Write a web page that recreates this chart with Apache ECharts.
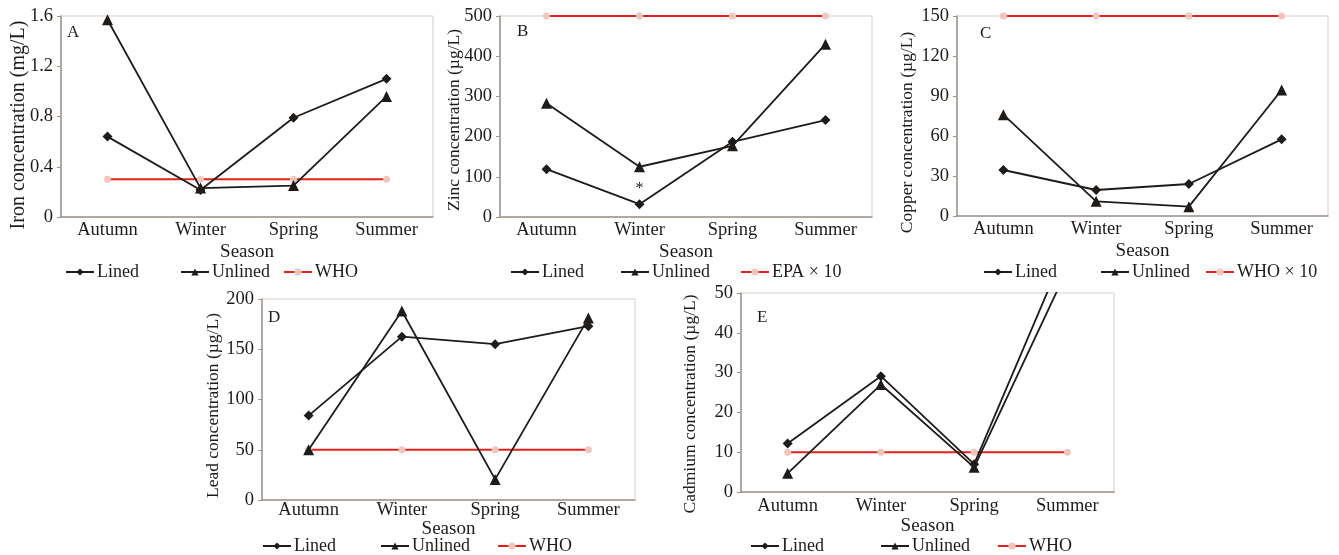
<!DOCTYPE html>
<html>
<head>
<meta charset="utf-8">
<script src="https://cdn.jsdelivr.net/npm/echarts@6/dist/echarts.min.js"></script>
<style>
  html, body { margin: 0; padding: 0; background: #fff; }
  #chart { width: 1339px; height: 555px; }
</style>
</head>
<body>
<div id="chart"></div>
<script>
var seasons = ['Autumn', 'Winter', 'Spring', 'Summer'];

// A - iron (mg/L)
var ironLined = [0.64, 0.215, 0.79, 1.10];
var ironUnlined = [1.57, 0.23, 0.25, 0.96];
var ironWHO = [0.3, 0.3, 0.3, 0.3];
// B - zinc (ug/L)
var zincLined = [119, 32, 187, 241];
var zincUnlined = [283, 125, 177, 430];
var zincEPA = [500, 500, 500, 500];
// C - copper (ug/L)
var copperLined = [34.5, 19.5, 24, 57.5];
var copperUnlined = [76, 11, 7, 94.5];
var copperWHO = [150, 150, 150, 150];
// D - lead (ug/L)
var leadLined = [84, 162.5, 155, 173];
var leadUnlined = [50, 188, 20.5, 181];
var leadWHO = [50, 50, 50, 50];
// E - cadmium (ug/L)
var cadLined = [12.2, 29.1, 7, 62];
var cadUnlined = [4.7, 27, 6.2, 56];
var cadWHO = [10, 10, 10, 10];

var font = "'Liberation Serif', 'Times New Roman', serif";
var ink = '#1e1b19';

// panel layout: grid box, y axis name (size, gap, shift), legend
var panels = [
  {tag: 'A', grid: [61, 16, 372, 201], tagPos: [67, 24], yName: 'Iron concentration (mg/L)', max: 1.6, step: 0.4,
   nameSize: 20, gap: 32, shift: 17, labM: 4, seasonGap: 26,
   lined: ironLined, unlined: ironUnlined, ref: ironWHO, refName: 'WHO', legTop: 263, legX: [65, 180, 283]},
  {tag: 'B', grid: [500, 16, 372, 201], tagPos: [517, 23], yName: 'Zinc concentration (\u00b5g/L)', max: 500, step: 100,
   nameSize: 17.5, gap: 37, shift: 7, labM: 4, seasonGap: 26,
   lined: zincLined, unlined: zincUnlined, ref: zincEPA, refName: 'EPA \u00d7 10', legTop: 263, legX: [510, 620, 740]},
  {tag: 'C', grid: [957, 16, 371, 200], tagPos: [980, 25], yName: 'Copper concentration (\u00b5g/L)', max: 150, step: 30,
   nameSize: 17.5, gap: 41, shift: 33, labM: 4, seasonGap: 26,
   lined: copperLined, unlined: copperUnlined, ref: copperWHO, refName: 'WHO \u00d7 10', legTop: 263, legX: [983, 1100, 1205]},
  {tag: 'D', grid: [262, 299, 373, 201], tagPos: [268, 309], yName: 'Lead concentration (\u00b5g/L)', max: 200, step: 50,
   nameSize: 17.5, gap: 40, shift: 12, labM: 1, seasonGap: 20,
   lined: leadLined, unlined: leadUnlined, ref: leadWHO, refName: 'WHO', legTop: 537, legX: [262, 380, 497]},
  {tag: 'E', grid: [741, 293, 373, 199], tagPos: [757, 309], yName: 'Cadmium concentration (\u00b5g/L)', max: 50, step: 10,
   nameSize: 17.5, gap: 42, shift: 23, labM: 5, seasonGap: 25,
   lined: cadLined, unlined: cadUnlined, ref: cadWHO, refName: 'WHO', legTop: 537, legX: [750, 880, 997]}
];

var grids = [], xAxes = [], yAxes = [], series = [], legends = [], titles = [];

panels.forEach(function (p, i) {
  grids.push({left: p.grid[0], top: p.grid[1], width: p.grid[2], height: p.grid[3],
    show: true, borderColor: '#d6cdc6', borderWidth: 1, backgroundColor: 'transparent'});

  xAxes.push({
    type: 'category', gridIndex: i, data: seasons,
    name: 'Season', nameLocation: 'middle', nameGap: p.seasonGap, nameMoveOverlap: false,
    nameTextStyle: {fontFamily: font, fontSize: 19, color: ink},
    axisLine: {lineStyle: {color: '#9d948c', width: 1.5}},
    axisTick: {length: 4, lineStyle: {color: '#9d948c'}},
    axisLabel: {fontFamily: font, fontSize: 18.5, color: ink, margin: p.labM}
  });

  yAxes.push({
    type: 'value', gridIndex: i, min: 0, max: p.max, interval: p.step,
    name: p.yName, nameLocation: 'middle', nameGap: p.gap, nameMoveOverlap: false,
    nameTextStyle: {fontFamily: font, fontSize: p.nameSize, color: ink, padding: [0, p.shift, 0, 0]},
    axisLine: {show: true, lineStyle: {color: '#9d948c', width: 1.5}},
    axisTick: {show: true, length: 4, lineStyle: {color: '#9d948c'}},
    axisLabel: {fontFamily: font, fontSize: 18.5, color: ink, margin: 8},
    splitLine: {show: false}
  });

  var linedData = p.lined.slice();
  if (p.tag === 'B') {
    linedData[1] = {value: p.lined[1], label: {show: true, formatter: '*', position: 'top', distance: 2,
      fontFamily: font, fontSize: 16, color: ink}};
  }

  series.push({
    name: 'Lined', type: 'line', xAxisIndex: i, yAxisIndex: i, data: linedData,
    symbol: 'diamond', symbolSize: 10, color: ink, z: 3,
    lineStyle: {color: ink, width: 1.8}, itemStyle: {color: ink}
  });
  series.push({
    name: 'Unlined', type: 'line', xAxisIndex: i, yAxisIndex: i, data: p.unlined,
    symbol: 'triangle', symbolSize: 11, color: ink, z: 3,
    lineStyle: {color: ink, width: 1.8}, itemStyle: {color: ink}
  });
  series.push({
    name: p.refName, type: 'line', xAxisIndex: i, yAxisIndex: i, data: p.ref,
    symbol: 'circle', symbolSize: 7, color: '#e3231b', z: 2, clip: false,
    lineStyle: {color: '#e3231b', width: 2}, itemStyle: {color: '#f2c6bc'}
  });

  var names = ['Lined', 'Unlined', p.refName];
  names.forEach(function (n, k) {
    legends.push({
      data: [n], left: p.legX[k], top: p.legTop, padding: 0,
      itemWidth: 28, itemHeight: 9, itemGap: 4,
      textStyle: {fontFamily: font, fontSize: 18, color: ink, padding: [0, 0, 0, -2]}
    });
  });

  titles.push({
    text: p.tag, left: p.tagPos[0], top: p.tagPos[1], padding: 0,
    textStyle: {fontFamily: font, fontSize: 17, fontWeight: 'normal', color: ink}
  });
});

var chart = echarts.init(document.getElementById('chart'));
chart.setOption({
  animation: false,
  backgroundColor: '#fff',
  title: titles,
  legend: legends,
  grid: grids,
  xAxis: xAxes,
  yAxis: yAxes,
  series: series
});
</script>
</body>
</html>
